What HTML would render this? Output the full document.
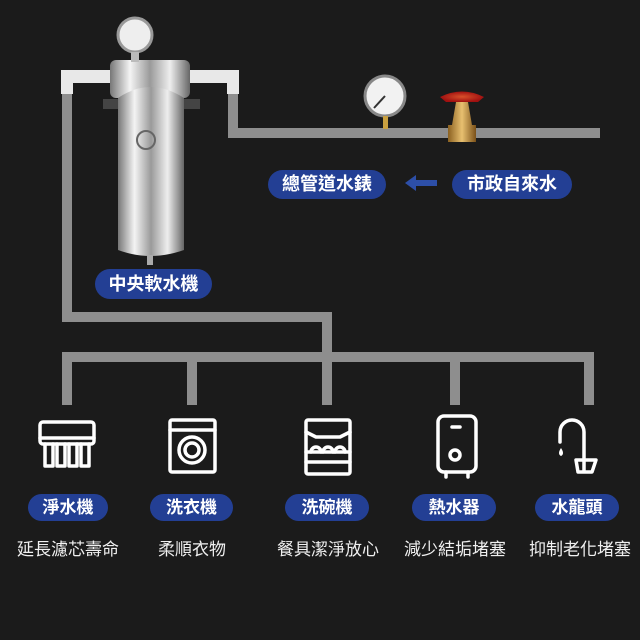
<!DOCTYPE html>
<html><head><meta charset="utf-8"><style>
body{margin:0;width:640px;height:640px;background:#1b1b1b;overflow:hidden;position:relative;font-family:"Liberation Sans","Noto Sans CJK TC",sans-serif}
.p{position:absolute;background:#8e8e8e}
.pill{position:absolute;background:#233f94;color:#fff;border-radius:16px;text-align:center;font-weight:bold}
.cap{position:absolute;color:#f0f0f0;font-size:17px;text-align:center;width:128px}
</style></head><body>
<div class="p" style="left:62px;top:82px;width:10px;height:240px"></div>
<div class="p" style="left:228px;top:82px;width:10px;height:56px"></div>
<div class="p" style="left:228px;top:128px;width:372px;height:10px"></div>
<div class="p" style="left:62px;top:312px;width:270px;height:10px"></div>
<div class="p" style="left:322px;top:312px;width:10px;height:50px"></div>
<div class="p" style="left:62px;top:352px;width:532px;height:10px"></div>
<div class="p" style="left:62px;top:352px;width:10px;height:53px"></div>
<div class="p" style="left:187px;top:352px;width:10px;height:53px"></div>
<div class="p" style="left:322px;top:352px;width:10px;height:53px"></div>
<div class="p" style="left:450px;top:352px;width:10px;height:53px"></div>
<div class="p" style="left:584px;top:352px;width:10px;height:53px"></div>
<div style="position:absolute;left:61px;top:70px;width:178px;height:13px;background:#e8e8e8;border-radius:3px"></div>
<div style="position:absolute;left:61px;top:70px;width:12px;height:24px;background:#e8e8e8"></div>
<div style="position:absolute;left:227px;top:70px;width:12px;height:24px;background:#e8e8e8"></div>
<svg style="position:absolute;left:0;top:0" width="640" height="640">
<defs><linearGradient id="s" x1="0" x2="1"><stop offset="0" stop-color="#777"/><stop offset=".25" stop-color="#f4f4f4"/><stop offset=".5" stop-color="#9a9a9a"/><stop offset=".75" stop-color="#eee"/><stop offset="1" stop-color="#666"/></linearGradient>
<radialGradient id="r"><stop offset="0" stop-color="#d8502a"/><stop offset="1" stop-color="#a01010"/></radialGradient>
<linearGradient id="b" x1="0" x2="1"><stop offset="0" stop-color="#8a6020"/><stop offset=".5" stop-color="#e8c070"/><stop offset="1" stop-color="#7a5018"/></linearGradient></defs>
<rect x="110" y="60" width="80" height="38" rx="6" fill="url(#s)"/>
<rect x="103" y="99" width="97" height="10" fill="#444"/>
<path d="M118 98 Q150 76 184 98 L184 250 Q150 262 118 250Z" fill="url(#s)"/>
<rect x="147" y="255" width="6" height="10" fill="#aaa"/>
<circle cx="135" cy="35" r="17" fill="#eee" stroke="#999" stroke-width="3"/>
<rect x="131" y="52" width="8" height="10" fill="#bbb"/>
<circle cx="146" cy="140" r="9" fill="none" stroke="#666" stroke-width="2"/>
<circle cx="385" cy="96" r="20" fill="#f2f2f2" stroke="#888" stroke-width="3"/>
<line x1="385" y1="96" x2="374" y2="108" stroke="#333" stroke-width="2"/>
<rect x="383" y="116" width="5" height="13" fill="#c9a040"/>
<path d="M440 97 Q462 86 484 97 L478 102 L446 102Z" fill="url(#r)"/>
<path d="M456 102 L468 102 L472 125 L476 125 L476 142 L448 142 L448 125 L452 125Z" fill="url(#b)"/>
<path d="M405 183 L416 175 L416 180 L437 180 L437 186 L416 186 L416 191Z" fill="#2d4fa8"/>
<g fill="none" stroke="#fff" stroke-width="3.5" stroke-linejoin="round" stroke-linecap="round">
<rect x="40" y="422" width="54" height="22" rx="3"/><line x1="40" y1="438" x2="94" y2="438"/>
<path d="M45 444v22h8v-22M57 444v22h8v-22M69 444v22h8v-22M81 444v22h8v-22"/>
<rect x="170" y="420" width="45" height="52" rx="2"/><line x1="170" y1="430" x2="215" y2="430"/>
<circle cx="192" cy="450" r="13"/><circle cx="192" cy="450" r="7"/>
<rect x="306" y="420" width="44" height="54" rx="2"/><path d="M306 432 L316 437 L340 437 L350 432 M306 452h44 M306 462h44"/>
<path d="M311 452 a5 5 0 0 1 10 0 M323 452 a5 5 0 0 1 10 0 M335 452 a5 5 0 0 1 10 0"/>
<rect x="438" y="416" width="38" height="56" rx="6"/><line x1="452" y1="427" x2="460" y2="427"/><circle cx="455" cy="455" r="5"/>
<path d="M446 472v5M468 472v5"/>
<path d="M560 442 v-10 a12 12 0 0 1 24 0 v38 M576 460 h20 l-4 12 h-14 z"/>
</g>
<path d="M561 448 q-4 6 0 8 q4 -2 0 -8z" fill="#fff"/>
</svg>
<div class="pill" style="left:268px;top:170px;width:118px;height:29px;line-height:29px;font-size:18px">總管道水錶</div>
<div class="pill" style="left:452px;top:170px;width:120px;height:29px;line-height:29px;font-size:18px">市政自來水</div>
<div class="pill" style="left:95px;top:269px;width:117px;height:30px;line-height:30px;font-size:18px">中央軟水機</div>
<div class="pill" style="left:28px;top:494px;width:80px;height:27px;line-height:27px;font-size:17px">淨水機</div>
<div class="pill" style="left:150px;top:494px;width:83px;height:27px;line-height:27px;font-size:17px">洗衣機</div>
<div class="pill" style="left:285px;top:494px;width:84px;height:27px;line-height:27px;font-size:17px">洗碗機</div>
<div class="pill" style="left:412px;top:494px;width:84px;height:27px;line-height:27px;font-size:17px">熱水器</div>
<div class="pill" style="left:535px;top:494px;width:84px;height:27px;line-height:27px;font-size:17px">水龍頭</div>
<div class="cap" style="left:4px;top:535px">延長濾芯壽命</div>
<div class="cap" style="left:128px;top:535px">柔順衣物</div>
<div class="cap" style="left:264px;top:535px">餐具潔淨放心</div>
<div class="cap" style="left:391px;top:535px">減少結垢堵塞</div>
<div class="cap" style="left:516px;top:535px">抑制老化堵塞</div>
</body></html>
